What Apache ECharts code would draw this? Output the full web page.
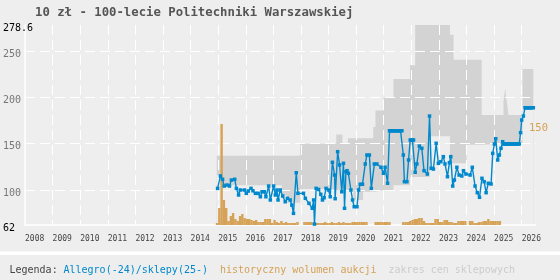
<!DOCTYPE html>
<html>
<head>
<meta charset="utf-8">
<script src="https://cdn.jsdelivr.net/npm/echarts@6/dist/echarts.min.js"></script>
<style>
  html, body { margin: 0; padding: 0; background: #eeeeee; }
  #chart { width: 560px; height: 280px; }
</style>
</head>
<body>
<div id="chart"></div>
<script>
// axis ranges / labels
const yMin = 62, yMax = 278.6;
const xMin = 2008, xMax = 2026.5;

// Allegro(-24)/sklepy(25-) price line: [year fraction, price]
const priceLine = [
  [2014.98, 101.7], [2015.08, 115.1], [2015.16, 111.5], [2015.22, 104.2], [2015.32, 105.3], [2015.41, 104.2],
  [2015.48, 110.7], [2015.60, 111.5], [2015.66, 101.7], [2015.74, 94.5], [2015.80, 99.9], [2015.95, 99.9],
  [2016.02, 96.3], [2016.09, 98.8], [2016.19, 101.7], [2016.26, 99.1], [2016.35, 96.3], [2016.45, 96.3],
  [2016.53, 92.6], [2016.59, 98], [2016.67, 98], [2016.73, 92.6], [2016.83, 104.2], [2016.89, 89.1],
  [2017.01, 104.2], [2017.07, 94.5], [2017.13, 99.9], [2017.17, 89.1], [2017.25, 99.9], [2017.34, 93.4],
  [2017.43, 87.2], [2017.51, 90.9], [2017.61, 89.1], [2017.67, 83.6], [2017.73, 74.6], [2017.83, 118.6],
  [2017.89, 96.3], [2018.09, 96.3], [2018.16, 90.9], [2018.29, 85.5], [2018.41, 80.1], [2018.46, 89.1],
  [2018.49, 63], [2018.55, 101.7], [2018.64, 100.6], [2018.72, 95.2], [2018.78, 89.1], [2018.84, 91.5],
  [2018.91, 101.7], [2019.00, 99.9], [2019.06, 92.6], [2019.14, 129.9], [2019.22, 116.1], [2019.24, 90.5],
  [2019.33, 141.4], [2019.40, 127], [2019.48, 98], [2019.54, 128.8], [2019.58, 80.1], [2019.63, 119.7],
  [2019.67, 120.8], [2019.72, 118], [2019.81, 99.9], [2019.87, 89.1], [2019.93, 81.8], [2020.03, 81.8],
  [2020.09, 99.9], [2020.15, 106.1], [2020.23, 106.1], [2020.33, 128.1], [2020.39, 137.8], [2020.48, 137.8],
  [2020.55, 101.7], [2020.66, 128.1], [2020.75, 128.1], [2020.90, 124.5], [2020.99, 118], [2021.05, 124.5],
  [2021.14, 107.2],
  [2021.21, 164.1], [2021.25, 164.1], [2021.29, 164.1], [2021.33, 164.1], [2021.37, 164.1], [2021.41, 164.1],
  [2021.45, 164.1], [2021.49, 164.1], [2021.53, 164.1], [2021.57, 164.1], [2021.61, 164.1], [2021.66, 164.1],
  [2021.71, 137.8], [2021.75, 108.9], [2021.84, 108.9], [2021.90, 132.4],
  [2021.96, 154], [2022.00, 154], [2022.04, 154], [2022.08, 154],
  [2022.14, 119.1], [2022.20, 128.1], [2022.29, 147.5], [2022.38, 145.1], [2022.46, 120.8], [2022.58, 117.2],
  [2022.66, 180], [2022.72, 123.4], [2022.80, 122.6], [2022.90, 150.5], [2022.98, 128.8], [2023.07, 130.5],
  [2023.16, 136], [2023.22, 128.1], [2023.31, 114.3], [2023.38, 129.5], [2023.43, 136], [2023.50, 104.2],
  [2023.56, 110.7], [2023.65, 124.5], [2023.73, 116.1], [2023.83, 115.1], [2023.89, 120.8], [2023.98, 117.2],
  [2024.13, 116.1], [2024.21, 124.5], [2024.31, 104.2], [2024.39, 97], [2024.47, 92], [2024.56, 112.6],
  [2024.64, 108.9], [2024.71, 97], [2024.79, 107.2], [2024.89, 106.4], [2024.95, 139.6], [2025.01, 149.7],
  [2025.06, 155.4], [2025.13, 132.4], [2025.19, 137.8], [2025.25, 145.1], [2025.31, 152.2],
  [2025.34, 149.7], [2025.38, 149.7], [2025.42, 149.7], [2025.46, 149.7], [2025.50, 149.7], [2025.54, 149.7],
  [2025.58, 149.7], [2025.62, 149.7], [2025.66, 149.7], [2025.70, 149.7], [2025.74, 149.7], [2025.78, 149.7],
  [2025.82, 149.7], [2025.86, 149.7], [2025.91, 149.7],
  [2025.96, 162], [2026.00, 175.7], [2026.06, 180],
  [2026.12, 189], [2026.16, 189], [2026.20, 189], [2026.24, 189], [2026.28, 189], [2026.32, 189],
  [2026.36, 189], [2026.42, 189]
];

// shop price range (steps): start of step, low, high
const bandX    = [2014.95, 2015.08, 2017.30, 2017.50, 2017.97, 2019.05, 2019.28, 2019.50, 2019.70, 2019.90,
                  2020.25, 2020.62, 2020.70, 2021.00, 2021.35, 2021.95, 2022.14, 2022.67, 2023.40, 2023.53,
                  2024.00, 2024.55, 2025.34, 2025.40, 2025.46, 2025.52, 2026.03, 2026.42];
const bandLow  = [116, 105, 94, 86, 101, 100, 100, 100, 100, 89,
                  98, 98, 100, 100, 105, 114, 114, 158, 129, 129,
                  149, 150, 150, 150, 150, 150, 189, 189];
const bandHigh = [137, 137, 137, 137, 150, 150, 160, 150, 156, 156,
                  156, 168, 186, 200, 220, 235, 280, 280, 268, 241,
                  241, 181, 196, 210, 196, 181, 231, 231];

// historical auction volume, monthly, first month = Dec 2014
const volStart = [2014, 12];
const volume = [
  2,
  17, 101, 25, 17, 4, 9, 12, 6, 4, 9, 11, 7,   // 2015
  6, 6, 5, 4, 5, 3, 3, 3, 6, 6, 6, 2,          // 2016
  5, 3, 2, 4, 2, 3, 2, 2, 2, 2, 3, 0,          // 2017
  0, 3, 3, 3, 3, 2, 2, 2, 2, 2, 3, 2,          // 2018
  2, 3, 2, 2, 3, 2, 3, 2, 2, 2, 3, 3,          // 2019
  3, 3, 3, 3, 3, 0, 0, 0, 3, 3, 3, 3,          // 2020
  3, 3, 3, 0, 0, 0, 0, 0, 3, 3, 3, 4,          // 2021
  5, 6, 6, 7, 7, 4, 2, 2, 2, 2, 6, 6,          // 2022
  3, 3, 5, 5, 3, 3, 2, 2, 4, 4, 4, 4,          // 2023
  0, 4, 4, 2, 2, 3, 3, 4, 4, 6, 4, 4,          // 2024
  4, 4, 4                                      // 2025
];
const volMax = 200;

const lastLabel = '150';

const volData = volume.map((v, i) => {
  const m = volStart[1] - 1 + i;
  return [volStart[0] + (m + 0.5) / 12, v > 0 ? v : null];
});
const highData = bandX.map((x, i) => [x, bandHigh[i]]);
const lowData = bandX.map((x, i) => [x, bandLow[i]]);

const bg = '#eeeeee';
const mono = 'DejaVu Sans Mono';
const chart = echarts.init(document.getElementById('chart'), null, { renderer: 'canvas' });
chart.setOption({
  animation: false,
  backgroundColor: bg,
  title: {
    text: '10 zł - 100-lecie Politechniki Warszawskiej',
    left: 30,
    top: 2,
    textStyle: { fontFamily: mono, fontSize: 12.3, fontWeight: 'bold', color: '#555555' }
  },
  legend: {
    left: 58.5,
    top: 265,
    padding: 0,
    icon: 'none',
    itemWidth: 0,
    itemHeight: 10,
    itemGap: 7,
    selectedMode: false,
    textStyle: { fontFamily: mono, fontSize: 10 },
    data: [
      { name: 'Allegro(-24)/sklepy(25-)', textStyle: { color: '#0088cc' } },
      { name: 'historyczny wolumen aukcji', textStyle: { color: '#d5a256' } },
      { name: 'zakres cen sklepowych', textStyle: { color: '#cccccc' } }
    ]
  },
  graphic: [
    { type: 'rect', left: 0, top: 251.5, shape: { width: 560, height: 3.5 }, style: { fill: '#ffffff' }, silent: true },
    { type: 'text', left: 9.5, top: 265, style: { text: 'Legenda:', fontFamily: mono, fontSize: 10, fill: '#444444' } },
    { type: 'text', left: 529, top: 123, z: 20, style: { text: lastLabel, fontFamily: mono, fontSize: 10.5, fill: '#d5a256' } }
  ],
  grid: { left: 24.5, right: 24.5, top: 25, bottom: 55 },
  xAxis: {
    type: 'value',
    min: xMin,
    max: xMax,
    interval: 1,
    z: 3,
    axisLine: { lineStyle: { color: '#ffffff', width: 1.5 } },
    axisTick: { show: false },
    axisLabel: {
      align: 'left',
      margin: 10,
      showMaxLabel: false,
      fontFamily: mono,
      fontSize: 8,
      color: '#444444',
      formatter: v => (Number.isInteger(v) ? String(v) : '')
    },
    splitLine: {
      show: true,
      showMinLine: false,
      showMaxLine: false,
      lineStyle: { color: '#ffffff', width: 1, type: [10, 5] }
    }
  },
  yAxis: [
    {
      type: 'value',
      min: yMin,
      max: yMax,
      splitNumber: 5,
      z: 3,
      axisLine: { show: true, lineStyle: { color: '#ffffff', width: 1.5 } },
      axisTick: { show: false },
      axisLabel: {
        align: 'left',
        margin: 22,
        showMinLabel: true,
        showMaxLabel: true,
        formatter: v => (v === yMin || v === yMax ? '{k|' + v + '}' : '{g|' + v + '}'),
        rich: {
          k: { fontFamily: mono, fontSize: 10, color: '#000000', padding: [7, 0, 0, 0] },
          g: { fontFamily: mono, fontSize: 10, color: '#777777', padding: [6, 0, 0, 0] }
        }
      },
      splitLine: {
        show: true,
        showMinLine: false,
        showMaxLine: false,
        lineStyle: { color: '#ffffff', width: 1, type: [10, 5] }
      }
    },
    { type: 'value', min: 0, max: volMax, show: false, splitLine: { show: false } }
  ],
  series: [
    {
      // upper edge of the shop range, filled down to the axis
      name: 'zakres cen sklepowych',
      type: 'line',
      step: 'end',
      data: highData,
      symbol: 'none',
      silent: true,
      z: 1,
      lineStyle: { width: 0, opacity: 0 },
      itemStyle: { color: '#cccccc' },
      areaStyle: { color: '#d3d3d3', opacity: 1, origin: 'start' }
    },
    {
      // lower edge of the shop range, background fill below it
      name: 'zakres-dol',
      type: 'line',
      step: 'end',
      data: lowData,
      symbol: 'none',
      silent: true,
      z: 2,
      lineStyle: { width: 0, opacity: 0 },
      areaStyle: { color: bg, opacity: 1, origin: 'start' }
    },
    {
      name: 'historyczny wolumen aukcji',
      type: 'bar',
      yAxisIndex: 1,
      data: volData,
      barWidth: 2.4,
      z: 4,
      itemStyle: { color: '#d5a256' }
    },
    {
      name: 'Allegro(-24)/sklepy(25-)',
      type: 'line',
      data: priceLine,
      symbol: 'rect',
      symbolSize: 3.5,
      z: 5,
      lineStyle: { color: '#0088cc', width: 1.4 },
      itemStyle: { color: '#0088cc' }
    }
  ]
});
</script>
</body>
</html>
